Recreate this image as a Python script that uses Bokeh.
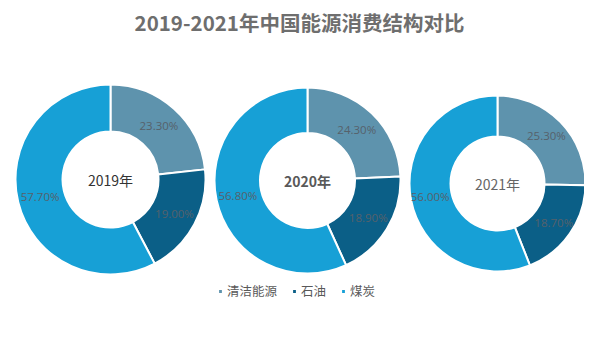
import math
from bokeh.plotting import figure
from bokeh.models import ColumnDataSource, Range1d, Label, Legend, LegendItem
from bokeh.core.properties import value
from bokeh.embed import file_html
from bokeh.resources import INLINE

title = "2019-2021年中国能源消费结构对比"
years = ["2019年", "2020年", "2021年"]
categories = ["清洁能源", "石油", "煤炭"]
share_2019 = [23.3, 19.0, 57.7]
share_2020 = [24.3, 18.9, 56.8]
share_2021 = [25.3, 18.7, 56.0]
colors = ["#5e93ad", "#0b5f87", "#17a0d6"]

W, H = 584, 342
p = figure(width=W, height=H, output_backend="svg", toolbar_location=None,
           x_range=Range1d(0, W), y_range=Range1d(0, H), min_border=0)
p.axis.visible = False
p.grid.visible = False
p.outline_line_color = None
p.background_fill_color = "white"
p.border_fill_color = "white"

centers = [(110, 163), (307, 162), (497, 159)]
outer = [95, 93, 88]
inner = [48, 47.5, 47]
center_styles = [("#333333", "normal"), ("#595959", "bold"), ("#666666", "normal")]

renderers = []
for i, vals in enumerate([share_2019, share_2020, share_2021]):
    cx, cy = centers[i]
    total = sum(vals)
    starts, ends, lx, ly, labels = [], [], [], [], []
    cum = 0.0
    for v in vals:
        a0 = math.pi / 2 - cum / total * 2 * math.pi
        cum += v
        a1 = math.pi / 2 - cum / total * 2 * math.pi
        starts.append(a0)
        ends.append(a1)
        mid = (a0 + a1) / 2
        r = (outer[i] + inner[i]) / 2 + 1
        lx.append(cx + r * math.cos(mid))
        ly.append(cy + r * math.sin(mid))
        labels.append(f"{v:.2f}%")
    src = ColumnDataSource(dict(x=[cx] * 3, y=[cy] * 3, start=starts, end=ends,
                                color=colors, cat=categories))
    r = p.annular_wedge(x="x", y="y", inner_radius=inner[i], outer_radius=outer[i],
                        start_angle="start", end_angle="end", direction="clock",
                        fill_color="color", line_color="white", line_width=2, source=src)
    renderers.append(r)
    lsrc = ColumnDataSource(dict(x=lx, y=ly, t=labels))
    p.text(x="x", y="y", text="t", source=lsrc, text_align="center", text_baseline="middle",
           text_font=value("Open Sans"), text_font_size="11.5px", text_color="#56616b")
    col, wt = center_styles[i]
    p.add_layout(Label(x=cx, y=cy, text=years[i], text_align="center", text_baseline="middle",
                       text_font="Noto Sans CJK SC", text_font_size="14px",
                       text_color=col, text_font_style=wt))

p.add_layout(Label(x=299, y=H - 21, text=title, text_align="center", text_baseline="middle",
                   text_font="Noto Sans CJK SC", text_font_size="20.5px", text_font_style="bold",
                   text_color="#6e6e6e"))

items = [LegendItem(label=c, renderers=[renderers[0]], index=k) for k, c in enumerate(categories)]
legend = Legend(items=items, orientation="horizontal", location=(217, 42),
                glyph_width=6, glyph_height=6, label_text_font="Noto Sans CJK SC",
                label_text_font_size="12.5px", label_text_color="#595959",
                spacing=14, label_standoff=4, padding=0, margin=0,
                border_line_color=None, background_fill_alpha=0)
p.add_layout(legend)

open("out.html", "w").write(file_html(p, INLINE))
